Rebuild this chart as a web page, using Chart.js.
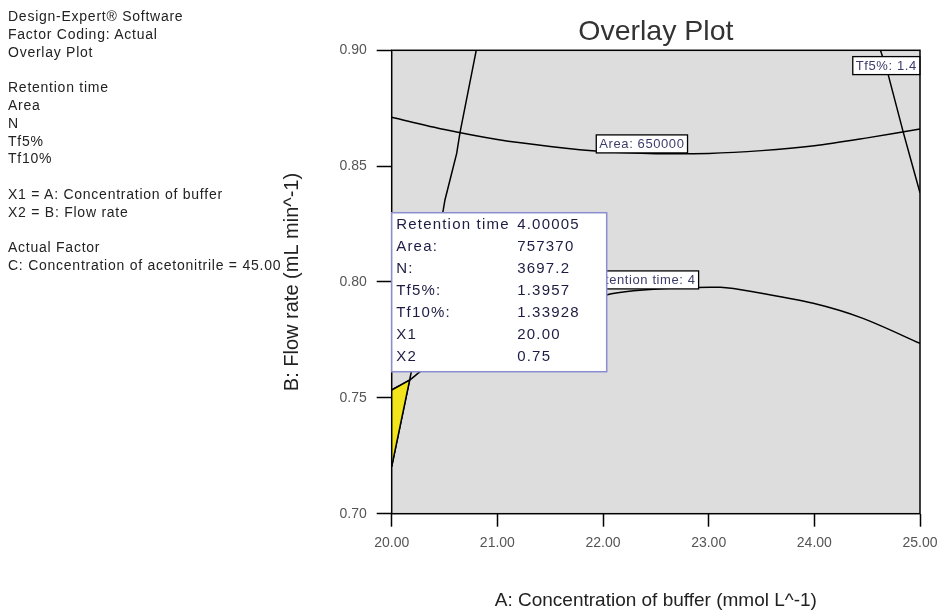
<!DOCTYPE html>
<html>
<head>
<meta charset="utf-8">
<script src="https://cdn.jsdelivr.net/npm/chart.js@4.4.1/dist/chart.umd.min.js"></script>
<style>
  body { margin: 0; background: #fff; overflow: hidden; }
  #wrap { position: relative; width: 939px; height: 612px; }
  #notes {
    position: absolute; left: 8px; top: 8px;
    font: 14px "Liberation Sans", Arial, sans-serif;
    letter-spacing: 0.75px;
    line-height: 17.8px; color: #222; white-space: pre;
  }
</style>
</head>
<body>
<div id="wrap">
  <canvas id="chart"></canvas>
  <div id="notes"></div>
</div>
<script>
const FONT = '"Liberation Sans", Arial, sans-serif';

// side notes
const notes = [
  "Design-Expert® Software",
  "Factor Coding: Actual",
  "Overlay Plot",
  "",
  "Retention time",
  "Area",
  "N",
  "Tf5%",
  "Tf10%",
  "",
  "X1 = A: Concentration of buffer",
  "X2 = B: Flow rate",
  "",
  "Actual Factor",
  "C: Concentration of acetonitrile = 45.00"
];

// axis ticks
const xTicks = [20, 21, 22, 23, 24, 25];
const yTicks = [0.70, 0.75, 0.80, 0.85, 0.90];

// contour: Area = 650000
const areaX = [20.0, 20.5, 21.0, 21.5, 22.0, 22.5, 23.0, 23.5, 24.0, 24.5, 25.0];
const areaY = [0.8711, 0.8658, 0.8615, 0.8585, 0.8563, 0.8554, 0.8555, 0.8567, 0.8588, 0.8622, 0.8660];

// contour: Retention time = 4
const rtX = [20.0, 20.17, 20.27, 20.6, 21.0, 21.5, 22.03, 22.29, 22.7, 23.11, 23.42, 23.99, 24.46, 25.0];
const rtY = [0.7534, 0.7577, 0.7613, 0.7710, 0.7795, 0.7870, 0.7944, 0.7962, 0.7974, 0.7977, 0.7958, 0.7908, 0.7843, 0.7735];

// steep contour on the left
const nX = [20.80, 20.646, 20.615, 20.504, 20.488, 20.17, 20.0];
const nY = [0.900, 0.8644, 0.8555, 0.8354, 0.8311, 0.7577, 0.7203];

// contour: Tf5% = 1.4
const tf5X = [24.626, 24.70, 24.84, 25.0];
const tf5Y = [0.900, 0.8893, 0.8649, 0.8385];

// yellow design space
const spaceX = [20.0, 20.17, 20.0];
const spaceY = [0.7534, 0.7577, 0.7203];

// contour labels
const labelText = ["Area: 650000", "Retention time: 4", "Tf5%: 1.4"];
const labelX = [22.368, 22.363, 24.681];
const labelY = [0.8596, 0.8009, 0.8934];

// flag box
const flagNames = ["Retention time", "Area:", "N:", "Tf5%:", "Tf10%:", "X1", "X2"];
const flagValues = ["4.00005", "757370", "3697.2", "1.3957", "1.33928", "20.00", "0.75"];
const flagAt = { x: 20.0, y: 0.8299 };

document.getElementById("notes").textContent = notes.join("\n");

function pts(xs, ys) {
  return xs.map((x, i) => ({ x, y: ys[i] }));
}

function contour(data, tension) {
  return {
    data,
    showLine: true,
    borderColor: "#000",
    borderWidth: 1.5,
    pointRadius: 0,
    tension,
    fill: false
  };
}

const overlayPlugin = {
  id: "overlay",
  beforeDraw(chart) {
    const { ctx, chartArea: a } = chart;
    ctx.save();
    ctx.fillStyle = "#dddddd";
    ctx.fillRect(a.left, a.top, a.right - a.left, a.bottom - a.top);
    ctx.restore();
  },
  afterDatasetsDraw(chart) {
    const { ctx, chartArea: a, scales: { x, y } } = chart;
    ctx.save();
    ctx.strokeStyle = "#000";
    ctx.lineWidth = 1.5;
    ctx.strokeRect(a.left, a.top, a.right - a.left, a.bottom - a.top);

    // contour labels
    ctx.font = "13px " + FONT;
    ctx.letterSpacing = "0.6px";
    ctx.textBaseline = "middle";
    ctx.textAlign = "left";
    labelText.forEach((t, i) => {
      const cx = x.getPixelForValue(labelX[i]);
      const cy = y.getPixelForValue(labelY[i]);
      const w = ctx.measureText(t).width + 6;
      const h = 18;
      ctx.fillStyle = "#fff";
      ctx.fillRect(cx - w / 2, cy - h / 2, w, h);
      ctx.strokeStyle = "#000";
      ctx.lineWidth = 1.3;
      ctx.strokeRect(cx - w / 2, cy - h / 2, w, h);
      ctx.fillStyle = "#3c3c6c";
      ctx.fillText(t, cx - w / 2 + 3, cy + 1);
    });

    // flag box at the selected point
    const left = x.getPixelForValue(flagAt.x);
    const top = y.getPixelForValue(flagAt.y);
    const bw = 215, bh = 159;
    ctx.fillStyle = "#fff";
    ctx.fillRect(left, top, bw, bh);
    ctx.strokeStyle = "#8c8cd0";
    ctx.lineWidth = 1.5;
    ctx.strokeRect(left, top, bw, bh);
    ctx.font = "15px " + FONT;
    ctx.letterSpacing = "1.2px";
    ctx.fillStyle = "#1c1c44";
    flagNames.forEach((n, i) => {
      const ry = top + 12.5 + i * 21.95;
      ctx.fillText(n, left + 4.5, ry);
      ctx.fillText(flagValues[i], left + 125.5, ry);
    });
    ctx.restore();
  }
};

new Chart(document.getElementById("chart"), {
  type: "scatter",
  data: {
    datasets: [
      {
        data: pts(spaceX, spaceY),
        showLine: true,
        borderColor: "#000",
        borderWidth: 1.5,
        backgroundColor: "#f2e41c",
        pointRadius: 0,
        tension: 0,
        fill: "shape"
      },
      contour(pts(areaX, areaY), 0.3),
      contour(pts(rtX, rtY), 0.3),
      contour(pts(nX, nY), 0),
      contour(pts(tf5X, tf5Y), 0.1)
    ]
  },
  options: {
    responsive: true,
    maintainAspectRatio: false,
    animation: false,
    layout: { padding: { left: 0, right: 19, top: 0, bottom: 0 } },
    plugins: {
      legend: { display: false },
      tooltip: { enabled: false },
      title: {
        display: true,
        text: "Overlay Plot",
        fullSize: false,
        color: "#333",
        font: { family: FONT, size: 28.5, weight: "normal" },
        padding: { top: 14.9, bottom: 1.2 }
      }
    },
    scales: {
      x: {
        type: "linear",
        min: 20,
        max: 25,
        afterBuildTicks: s => { s.ticks = xTicks.map(v => ({ value: v })); },
        afterFit: s => { s.height = 98.3; s.paddingLeft = 0; s.paddingRight = 0; },
        ticks: {
          callback: v => v.toFixed(2),
          color: "#555",
          padding: 8,
          font: { family: FONT, size: 14 }
        },
        grid: { drawOnChartArea: false, drawTicks: true, tickLength: 13, tickColor: "#000", tickWidth: 1.5, color: "#000" },
        border: { display: false },
        title: {
          display: true,
          text: "A: Concentration of buffer (mmol L^-1)",
          color: "#222",
          font: { family: FONT, size: 19 },
          padding: { top: 0, bottom: 0 }
        }
      },
      y: {
        type: "linear",
        min: 0.70,
        max: 0.90,
        afterBuildTicks: s => { s.ticks = yTicks.map(v => ({ value: v })); },
        afterFit: s => { s.width = 391.7; s.paddingTop = 0; s.paddingBottom = 0; },
        ticks: {
          callback: v => v.toFixed(2),
          color: "#555",
          padding: 10,
          font: { family: FONT, size: 14 }
        },
        grid: { drawOnChartArea: false, drawTicks: true, tickLength: 15, tickColor: "#000", tickWidth: 1.5, color: "#000" },
        border: { display: false },
        title: {
          display: true,
          text: "B: Flow rate (mL min^-1)",
          color: "#222",
          font: { family: FONT, size: 20 },
          padding: { top: 280, bottom: 0 }
        }
      }
    }
  },
  plugins: [overlayPlugin]
});
</script>
</body>
</html>
